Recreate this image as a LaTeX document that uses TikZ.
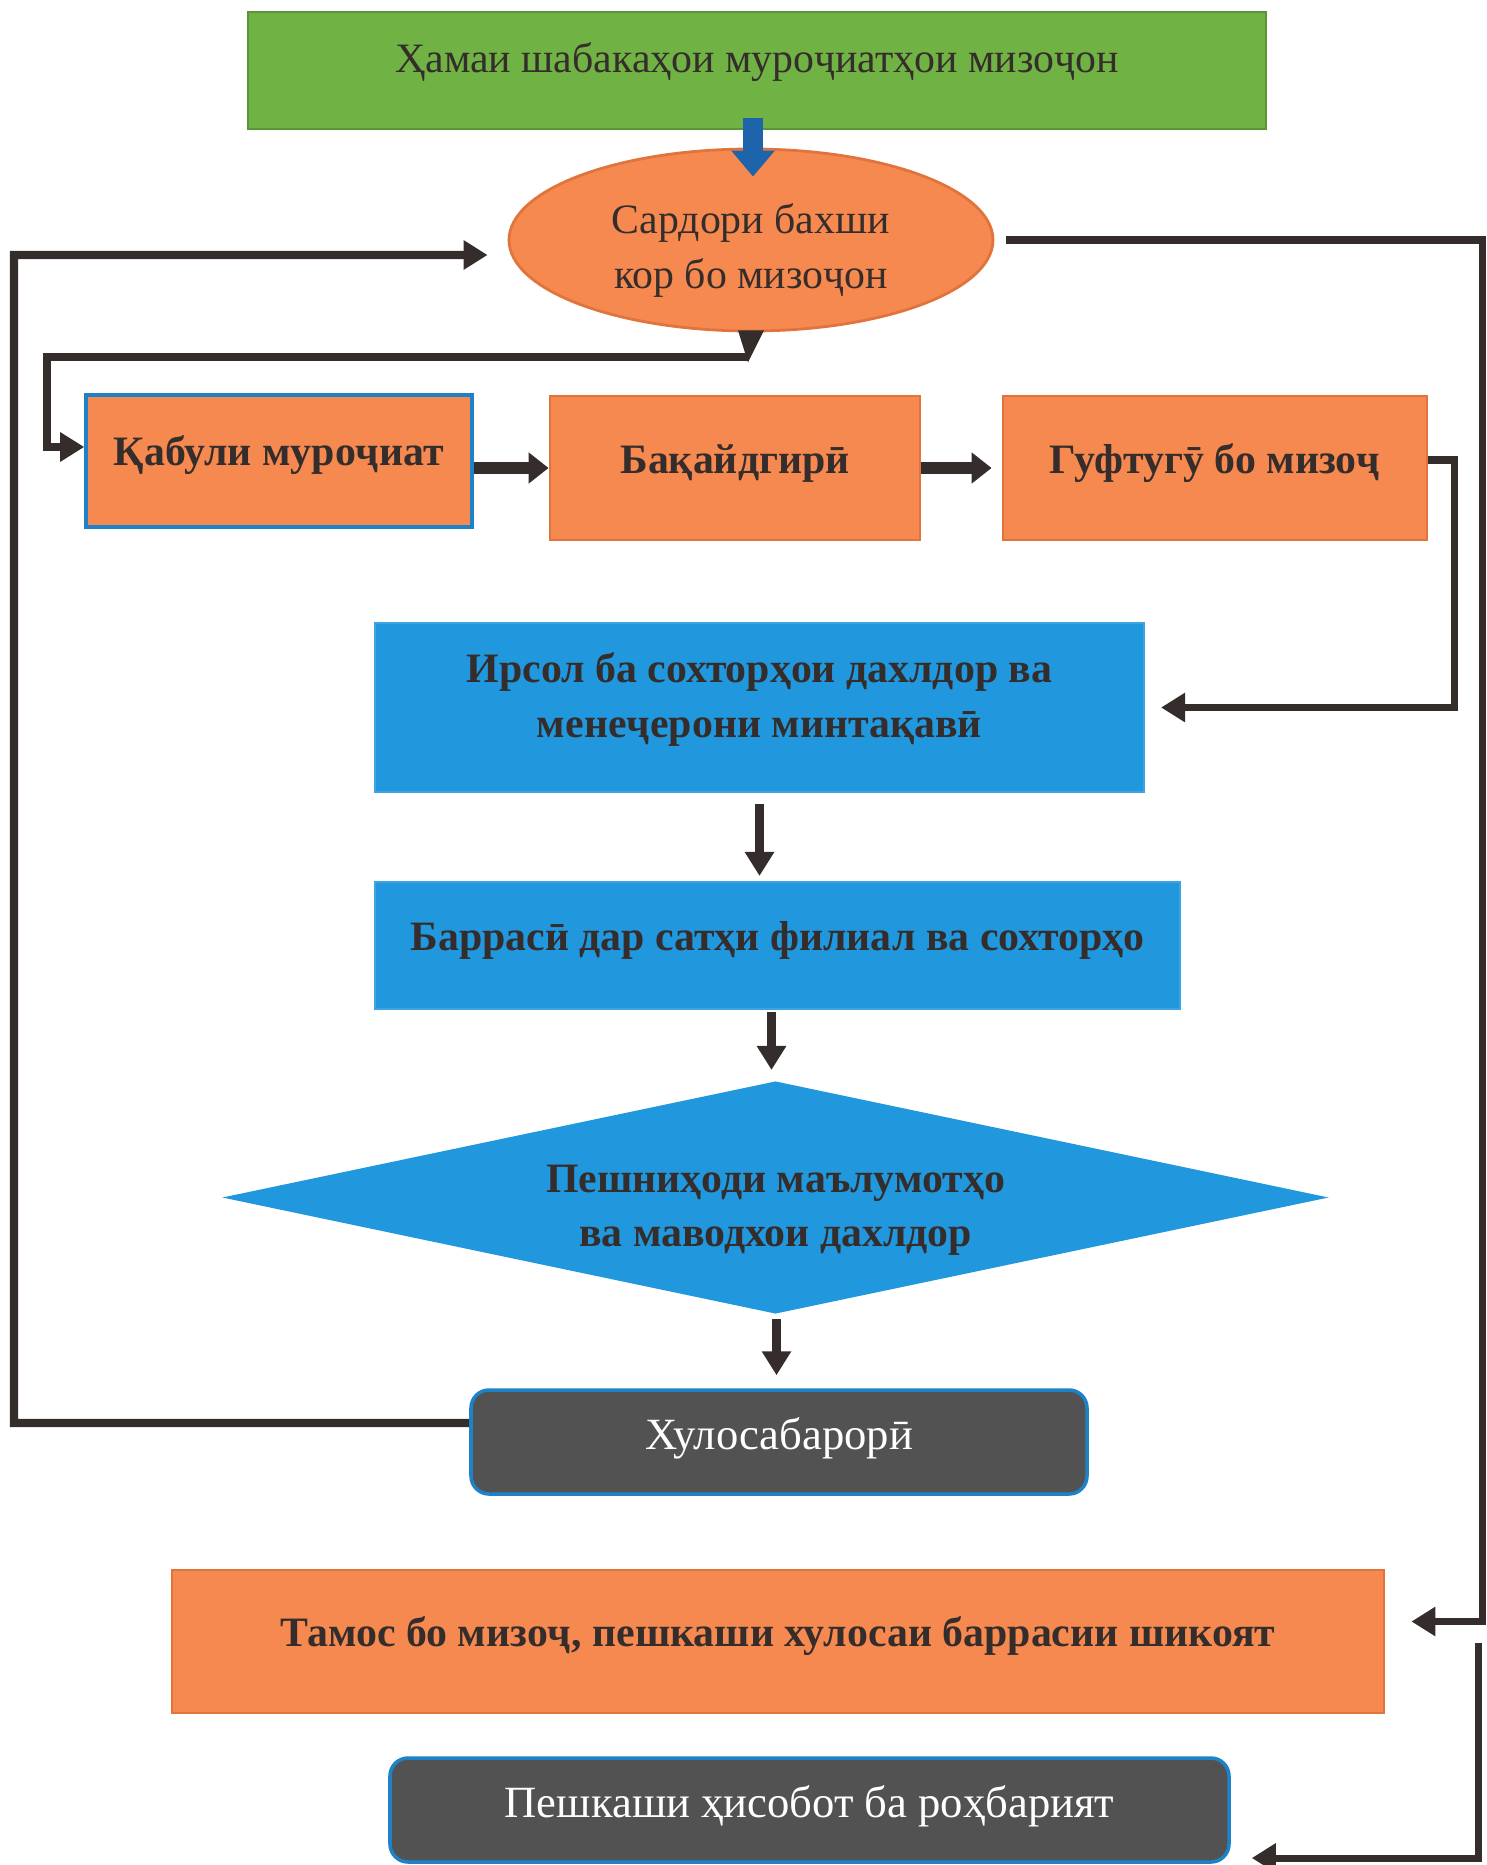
\documentclass[tikz,border=0pt]{standalone}
\usepackage{fontspec}
\setmainfont{Liberation Serif}
\usetikzlibrary{shapes.geometric, arrows.meta, calc}

\definecolor{greenfill}{RGB}{112,178,68}
\definecolor{greenedge}{RGB}{90,150,55}
\definecolor{orangefill}{RGB}{246,137,80}
\definecolor{orangeedge}{RGB}{225,115,60}
\definecolor{bluefill}{RGB}{33,152,222}
\definecolor{blueedge}{RGB}{60,165,225}
\definecolor{greyfill}{RGB}{82,82,82}
\definecolor{edgeblue}{RGB}{30,130,200}
\definecolor{arrowblue}{RGB}{30,100,170}
\definecolor{ink}{RGB}{52,45,43}

\newcommand{\boxfont}{\fontsize{11.9}{15.5}\selectfont}
\newcommand{\greyfont}{\fontsize{12.7}{15.5}\selectfont}
\newcommand{\lift}[2]{\raisebox{#1}[\height][\depth]{\begin{tabular}{@{}c@{}}#2\end{tabular}}}

\begin{document}
\begin{tikzpicture}[line join=miter, >={Triangle[length=2.4mm,width=2.8mm]},
    every node/.style={inner sep=0pt, text=ink, font=\boxfont},
    greenbox/.style={rectangle, fill=greenfill, draw=greenedge, line width=0.8pt},
    orangebox/.style={rectangle, fill=orangefill, draw=orangeedge, line width=0.8pt, font=\boxfont\bfseries},
    bluebox/.style={rectangle, fill=bluefill, draw=blueedge, line width=0.6pt, font=\boxfont\bfseries},
    greybox/.style={rectangle, rounded corners=1.8mm, fill=greyfill, draw=edgeblue, line width=1pt, text=white, font=\greyfont},
    flow/.style={draw=ink, line width=2.3pt, ->},
    fatflow/.style={draw=ink, line width=3.4pt, -{Triangle[length=2mm,width=3mm]}},
    rail/.style={draw=ink, line width=2pt, ->},
]
    \useasboundingbox (0,0) rectangle (14.87,-18.65);

    % Top of the chart
    \node[greenbox, minimum width=10.18cm, minimum height=1.17cm] (allchan) at (7.57,-0.705) {\lift{0.85mm}{Ҳамаи шабакаҳои муроҷиатҳои мизоҷон}};
    \node[ellipse, fill=orangefill, draw=orangeedge, line width=0.8pt, minimum width=4.84cm, minimum height=1.82cm] (head) at (7.51,-2.40) {\lift{-1mm}{Сардори бахши\\кор бо мизоҷон}};

    % First row
    \node[orangebox, draw=edgeblue, line width=1pt, minimum width=3.86cm, minimum height=1.32cm] (accept) at (2.79,-4.61) {\lift{0.6mm}{Қабули муроҷиат}};
    \node[orangebox, minimum width=3.70cm, minimum height=1.44cm] (register) at (7.35,-4.68) {\lift{0.5mm}{Бақайдгирӣ}};
    \node[orangebox, minimum width=4.24cm, minimum height=1.44cm] (talk) at (12.15,-4.68) {\lift{0.5mm}{Гуфтугӯ бо мизоҷ}};

    % Middle column
    \node[bluebox, minimum width=7.69cm, minimum height=1.69cm] (send) at (7.595,-7.075) {\lift{0.85mm}{Ирсол ба сохторҳои дахлдор ва\\менеҷерони минтақавӣ}};
    \node[bluebox, minimum width=8.05cm, minimum height=1.27cm] (review) at (7.775,-9.455) {\lift{0.6mm}{Баррасӣ дар сатҳи филиал ва сохторҳо}};
    \node[bluebox, diamond, aspect=4.75, draw=none, minimum width=11.07cm, minimum height=2.33cm] (submit) at (7.755,-11.975) {\lift{-1.1mm}{Пешниҳоди маълумотҳо\\ва маводхои дахлдор}};
    \node[greybox, minimum width=6.16cm, minimum height=1.04cm] (concl) at (7.79,-14.42) {\lift{0.35mm}{Хулосабарорӣ}};

    % Bottom
    \node[orangebox, minimum width=12.12cm, minimum height=1.43cm] (contact) at (7.78,-16.415) {\lift{0.6mm}{Тамос бо мизоҷ, пешкаши хулосаи баррасии шикоят}};
    \node[greybox, minimum width=8.39cm, minimum height=1.04cm] (report) at (8.095,-18.10) {\lift{0.35mm}{Пешкаши ҳисобот ба роҳбарият}};

    % Blue arrow into the head
    \draw[draw=arrowblue, line width=5.6pt, -{Triangle[length=2.6mm,width=4.2mm]}] ($(allchan.south)+(-0.04,0.12)$) -- ($(allchan.south |- head.north)+(-0.04,-0.29)$);

    % Head to first row
    \fill[ink] ($(head.south)+(-0.13,0.02)$) -- ($(head.south)+(0.13,0.02)$) -- ($(head.south)+(-0.03,-0.30)$) -- cycle;
    \draw[flow] ($(head.south)+(-0.03,-0.25)$) -| (0.47,-4.47) -- ([yshift=1.4mm]accept.west);

    % First row arrows
    \draw[fatflow] (accept.east |- register.west) -- (register.west);
    \draw[fatflow] (register.east) -- ([xshift=-1mm]talk.west);
    \draw[rail] ([yshift=0.8mm]talk.east) -- ++(0.26,0) |- ([xshift=1.6mm]send.east);

    % Down the middle
    \draw[flow] ([yshift=-1.1mm]send.south) -- ($(send.south |- review.north)+(0,0.05)$);
    \draw[flow] ($(review.south)+(-0.06,-0.02)$) -- ($(review.south |- submit.north)+(-0.06,0.10)$);
    \draw[flow] ($(submit.south)+(0.01,-0.04)$) -- ($(submit.south |- concl.north)+(0.01,0.13)$);

    % Loop back to the head
    \draw[flow] ([yshift=1.9mm]concl.west) -- (0.14,-14.23) |- ([xshift=-2mm,yshift=-1.5mm]head.west);

    % Right rail
    \draw[rail] ([xshift=1.2mm]head.east) -- (14.82,-2.40) |- ([xshift=2.6mm,yshift=2mm]contact.east);
    \coordinate (railgap) at (14.78,-16.43);
    \draw[rail] (railgap) |- ([xshift=2.1mm,yshift=-4.8mm]report.east);
\end{tikzpicture}
\end{document}
